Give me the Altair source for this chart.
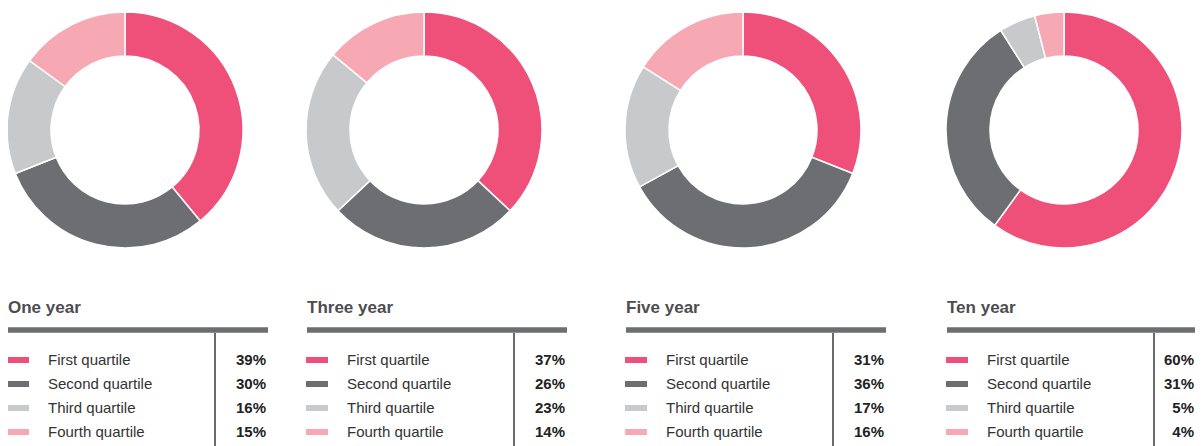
import altair as alt
import pandas as pd

periods = ["One year", "Three year", "Five year", "Ten year"]
quartiles = ["First quartile", "Second quartile", "Third quartile", "Fourth quartile"]
values = {
    "One year": [39, 30, 16, 15],
    "Three year": [37, 26, 23, 14],
    "Five year": [31, 36, 17, 16],
    "Ten year": [60, 31, 5, 4],
}
colors = ["#ef5079", "#6d6e71", "#c8c9cb", "#f6a8b3"]
panel_offsets = [0, 299, 618, 939]

FONT = "Liberation Sans"
W = 1187
H = 438

color_scale = alt.Scale(domain=quartiles, range=colors)
row_scale = alt.Scale(type="point", domain=quartiles, range=[352, 424], padding=0)


def panel_layers(period, ox):
    df = pd.DataFrame({
        "quartile": quartiles,
        "value": values[period],
        "order": [0, 1, 2, 3],
        "label": [f"{v}%" for v in values[period]],
    })
    base = alt.Chart(df)
    donut = base.mark_arc(radius=118, radius2=74, stroke="white", strokeWidth=1.5).encode(
        theta=alt.Theta("value:Q", stack=True),
        order=alt.Order("order:Q"),
        color=alt.Color("quartile:N", scale=color_scale, legend=None),
        x=alt.value(ox + 117),
        y=alt.value(122),
    )
    tdf = pd.DataFrame({"t": [period]})
    title = alt.Chart(tdf).mark_text(
        font=FONT, fontSize=17, fontWeight="bold", color="#4d4d4f", align="left", baseline="alphabetic"
    ).encode(text="t:N", x=alt.value(ox), y=alt.value(305))
    bar = alt.Chart(tdf).mark_rule(color="#6d6e71", strokeWidth=5.5).encode(
        x=alt.value(ox), x2=alt.value(ox + 260), y=alt.value(322)
    )
    vline = alt.Chart(tdf).mark_rule(color="#3a3a3c", strokeWidth=1.5).encode(
        x=alt.value(ox + 207), y=alt.value(325), y2=alt.value(H)
    )
    swatch = base.mark_rule(strokeWidth=6).encode(
        x=alt.value(ox - 1), x2=alt.value(ox + 21),
        y=alt.Y("quartile:N", scale=row_scale, axis=None),
        color=alt.Color("quartile:N", scale=color_scale, legend=None),
    )
    labels = base.mark_text(
        font=FONT, fontSize=15, color="#333333", align="left", baseline="middle"
    ).encode(
        x=alt.value(ox + 40),
        y=alt.Y("quartile:N", scale=row_scale, axis=None),
        text="quartile:N",
    )
    vals = base.mark_text(
        font=FONT, fontSize=15, fontWeight="bold", color="#222222", align="right", baseline="middle"
    ).encode(
        x=alt.value(min(ox + 258, W - 1)),
        y=alt.Y("quartile:N", scale=row_scale, axis=None),
        text="label:N",
    )
    return [donut, title, bar, vline, swatch, labels, vals]


layers = []
for p, ox in zip(periods, panel_offsets):
    layers.extend(panel_layers(p, ox))

chart = alt.layer(*layers).properties(
    width=W, height=H, padding=0,
    autosize=alt.AutoSizeParams(type="none"),
).configure_view(stroke=None)

chart.save("out.html", embed_options={"renderer": "svg", "actions": False})
